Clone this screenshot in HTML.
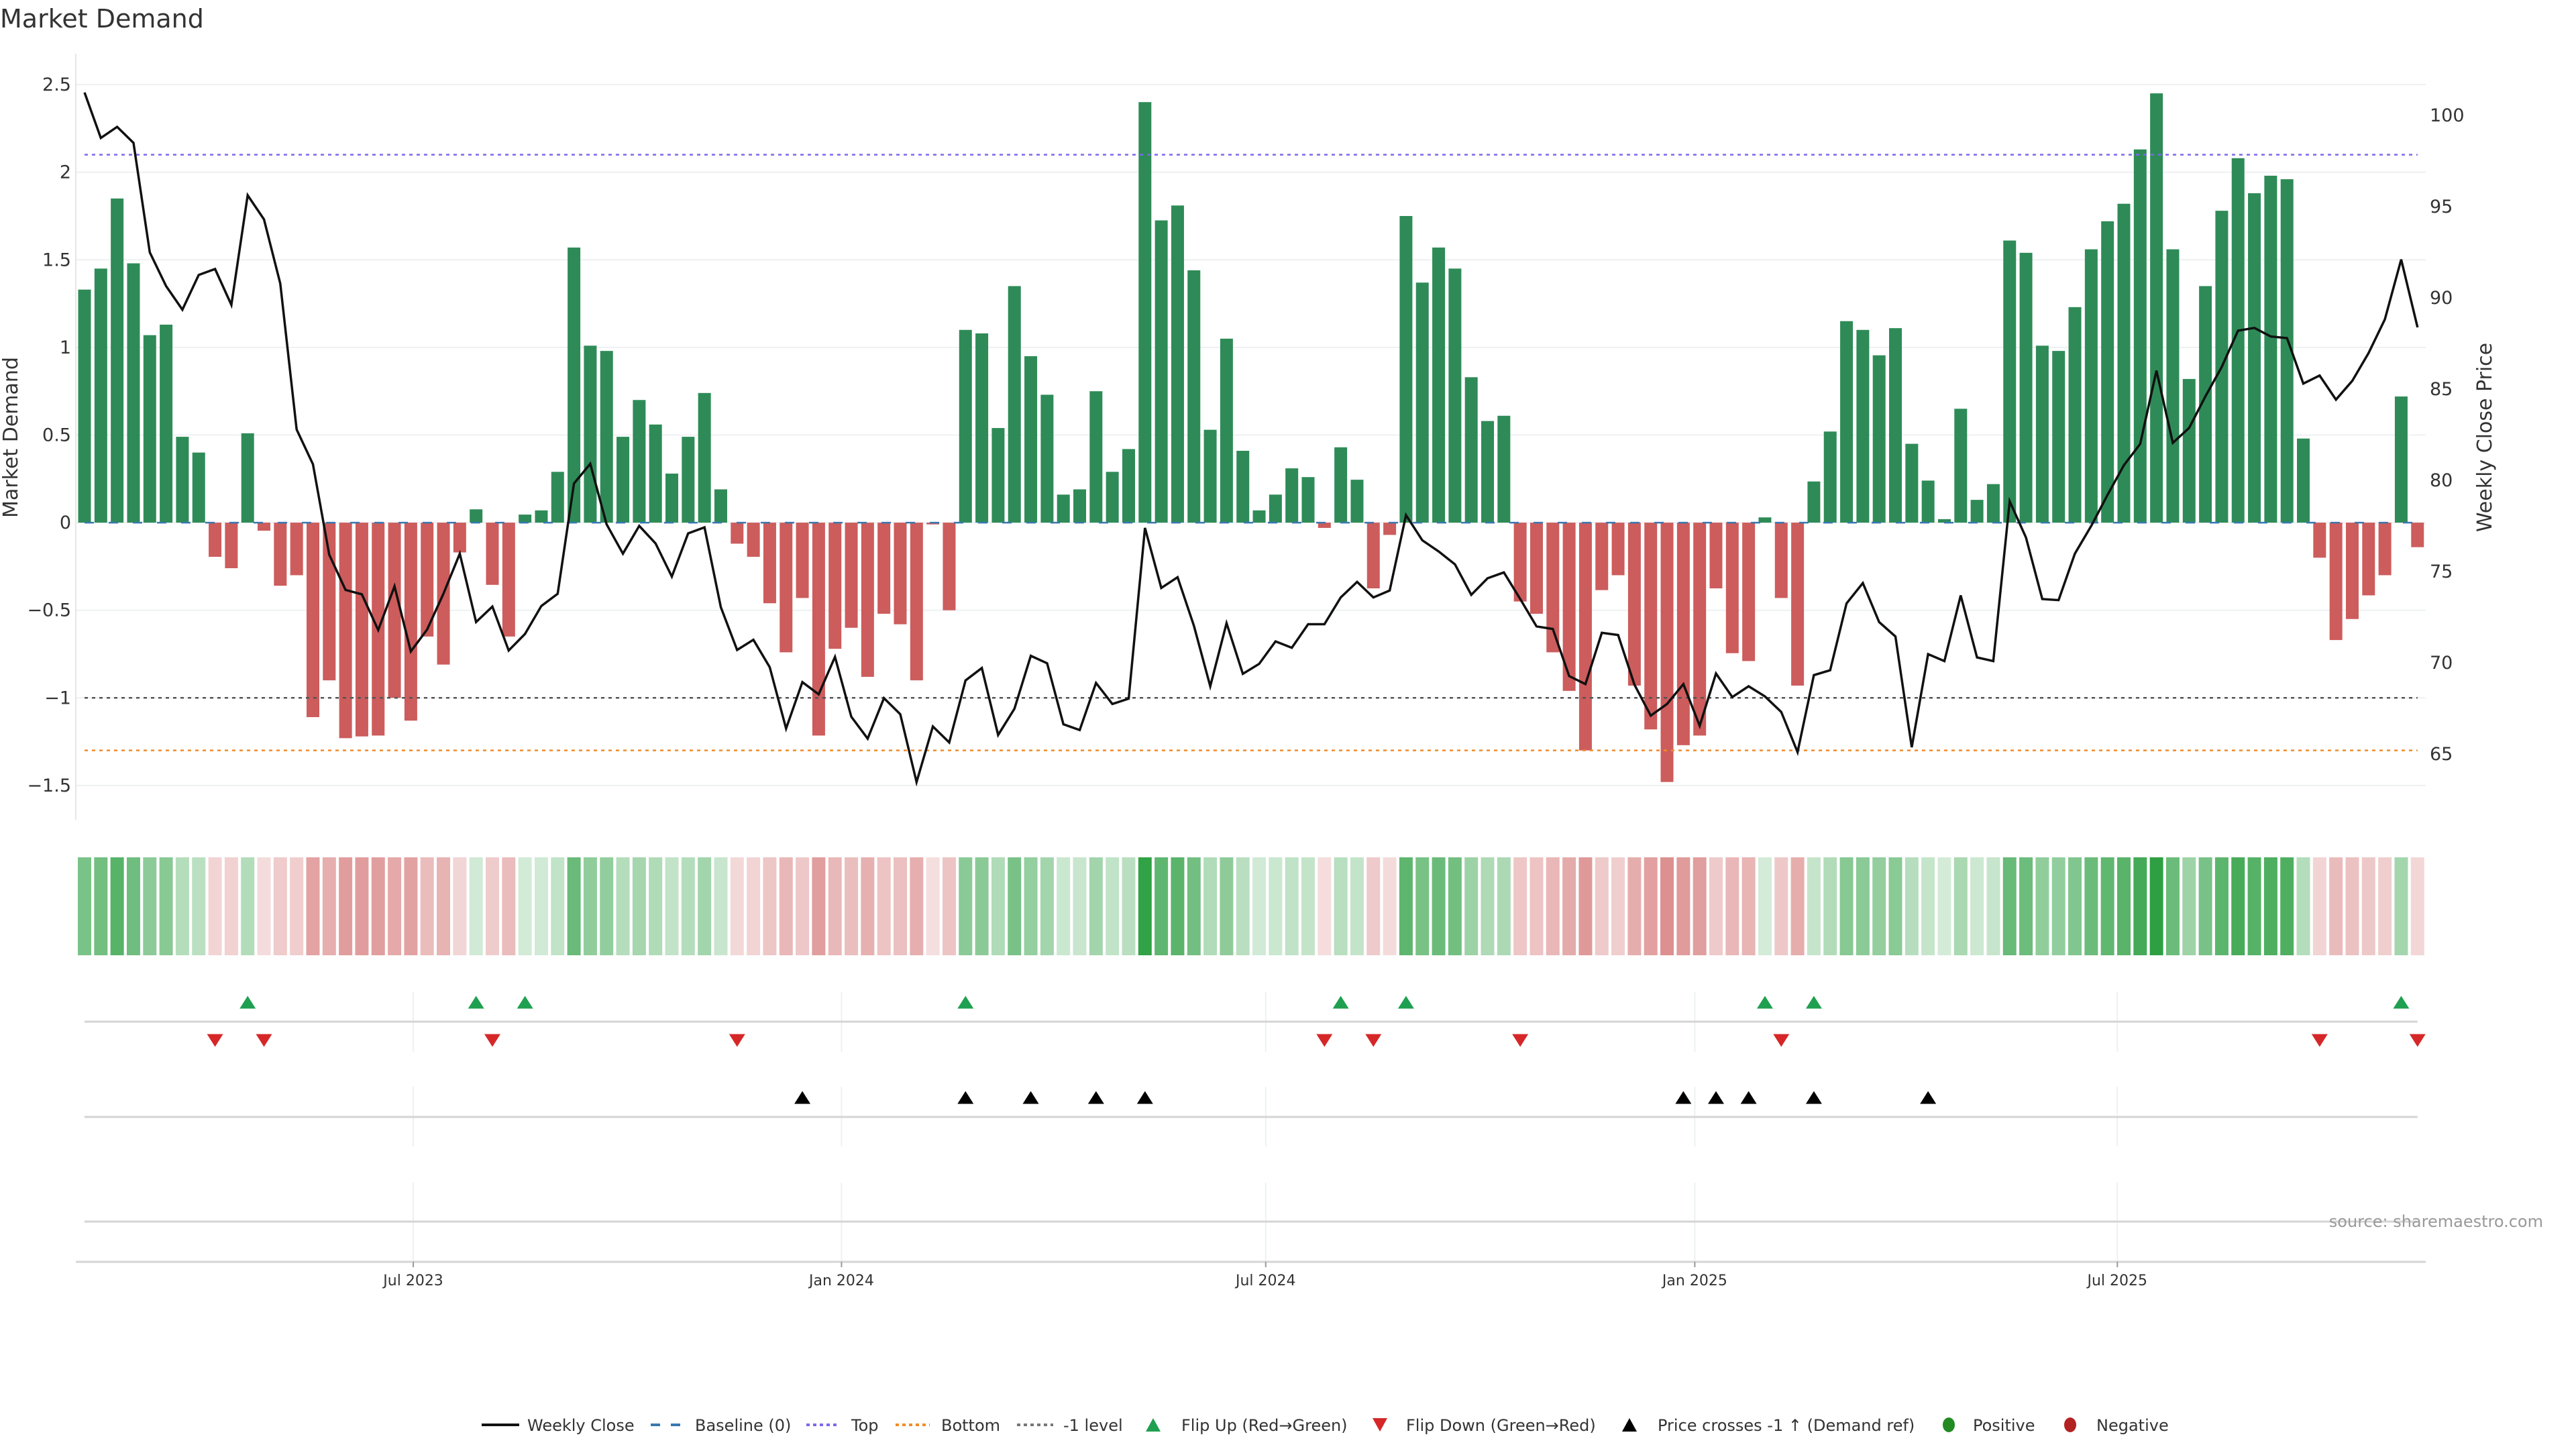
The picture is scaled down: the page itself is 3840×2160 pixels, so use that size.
<!DOCTYPE html>
<html><head><meta charset="utf-8"><style>
html,body{margin:0;padding:0;background:#fff;}
svg{display:block;font-family:"DejaVu Sans","Liberation Sans",sans-serif;}
</style></head><body>
<svg id="chart" width="3840" height="2160" viewBox="0 0 3840 2160" xmlns="http://www.w3.org/2000/svg">
<text x="0" y="41" font-size="38" fill="#333">Market Demand</text>
<g id="grid"></g>
<g id="main"></g>
<g id="heat"></g>
<g id="markers"></g>
<g id="xaxis"></g>
<text transform="translate(26,652) rotate(-90)" text-anchor="middle" font-size="30" fill="#333">Market Demand</text>
<text transform="translate(3714,652) rotate(-90)" text-anchor="middle" font-size="30" fill="#333">Weekly Close Price</text>
<text x="3791" y="1829" text-anchor="end" font-size="24" fill="#999">source: sharemaestro.com</text>
<g id="legend"></g>
</svg>
<script>
const demand = [1.33,1.45,1.85,1.48,1.07,1.13,0.49,0.40,-0.195,-0.26,0.51,-0.046,-0.36,-0.30,-1.11,-0.90,-1.23,-1.22,-1.215,-1.0,-1.13,-0.65,-0.81,-0.17,0.076,-0.355,-0.65,0.046,0.07,0.29,1.57,1.01,0.98,0.49,0.70,0.56,0.28,0.49,0.74,0.19,-0.12,-0.195,-0.46,-0.74,-0.43,-1.215,-0.72,-0.60,-0.88,-0.52,-0.58,-0.90,-0.01,-0.50,1.10,1.08,0.54,1.35,0.95,0.73,0.16,0.19,0.75,0.29,0.42,2.40,1.725,1.81,1.44,0.53,1.05,0.41,0.07,0.16,0.31,0.26,-0.03,0.43,0.245,-0.375,-0.07,1.75,1.37,1.57,1.45,0.83,0.58,0.61,-0.45,-0.52,-0.74,-0.96,-1.30,-0.385,-0.30,-0.93,-1.18,-1.48,-1.27,-1.215,-0.375,-0.745,-0.79,0.03,-0.43,-0.93,0.235,0.52,1.15,1.10,0.955,1.11,0.45,0.24,0.02,0.65,0.13,0.22,1.61,1.54,1.01,0.98,1.23,1.56,1.72,1.82,2.13,2.45,1.56,0.82,1.35,1.78,2.08,1.88,1.98,1.96,0.48,-0.20,-0.67,-0.55,-0.415,-0.30,0.72,-0.14];
const price = [101.26,98.77,99.38,98.5,92.5,90.65,89.36,91.26,91.59,89.62,95.63,94.31,90.79,82.79,80.89,75.93,74.0,73.76,71.8,74.2,70.63,71.83,73.79,75.99,72.24,73.09,70.68,71.59,73.12,73.79,79.83,80.91,77.6,75.99,77.51,76.55,74.73,77.1,77.43,73.06,70.71,71.27,69.77,66.4,68.95,68.28,70.33,67.05,65.85,68.07,67.19,63.47,66.52,65.64,69.04,69.72,66.05,67.49,70.39,69.98,66.64,66.32,68.9,67.75,68.04,77.4,74.11,74.7,72.03,68.72,72.18,69.4,69.95,71.18,70.83,72.12,72.12,73.59,74.44,73.59,73.97,78.1,76.72,76.11,75.4,73.73,74.64,74.96,73.5,72.0,71.86,69.28,68.84,71.65,71.53,68.81,67.11,67.75,68.84,66.55,69.42,68.13,68.72,68.16,67.31,65.11,69.33,69.6,73.26,74.38,72.24,71.45,65.38,70.48,70.1,73.7,70.3,70.1,78.86,76.87,73.5,73.44,75.99,77.51,79.21,80.83,82.0,86.02,82.06,82.88,84.61,86.22,88.21,88.36,87.89,87.8,85.31,85.75,84.43,85.46,86.98,88.83,92.11,88.39];
const flipUpIdx = [10,24,27,54,77,81,103,106,142];
const flipDownIdx = [8,11,25,40,76,79,88,104,137,143];
const crossIdx = [44,54,58,62,65,98,100,102,106,113];
const leftTicks = [2.5,2,1.5,1,0.5,0,-0.5,-1,-1.5];
const leftTickLabels = ["2.5","2","1.5","1","0.5","0","\u22120.5","\u22121","\u22121.5"];
const rightTicks = [100,95,90,85,80,75,70,65];
const dateTickLabels = ["Jul 2023","Jan 2024","Jul 2024","Jan 2025","Jul 2025"];
const dateTickPos = [20.15,46.4,72.4,98.7,124.6];
const levelTop = 2.1, levelBottom = -1.3, levelMinus1 = -1;

const NS = "http://www.w3.org/2000/svg";
function mk(tag, attrs, parent){const e=document.createElementNS(NS,tag);for(const k in attrs)e.setAttribute(k,attrs[k]);parent.appendChild(e);return e;}
const xS = i => 126 + i*24.32;
const yL = v => 779.1 - v*261.2;
const yR = p => 172.2 + (100-p)*27.2;
const PL=113, PR=3616, X0=xS(0), X1=xS(demand.length-1);
const grid=document.getElementById('grid'), main=document.getElementById('main');

leftTicks.forEach((t,k)=>{
  const l=mk('line',{x1:PL,x2:PR,y1:yL(t),y2:yL(t),stroke:'#eef0f2','stroke-width':2},grid);
  
  
  const tx=mk('text',{x:106,y:yL(t)+9,'text-anchor':'end','font-size':27,fill:'#333'},grid);
  tx.textContent=leftTickLabels[k];
  
  
});
rightTicks.forEach(t=>{
  const tx=mk('text',{x:3622,y:yR(t)+9,'font-size':27,fill:'#333'},grid);
  tx.textContent=String(t);
  
  
});
const spine=mk('line',{x1:PL,x2:PL,y1:80,y2:1222,stroke:'#e6e6e6','stroke-width':2},grid);



demand.forEach((v,i)=>{
  const y0=yL(0), y1=yL(v);
  const r=mk('rect',{x:xS(i)-9.5,y:Math.min(y0,y1),width:19,height:Math.max(1,Math.abs(y1-y0)),fill:v>=0?'#2e8b57':'#cd5c5c'},main);
  
  
});
function level(v,color,dash,name){
  const l=mk('line',{x1:X0,x2:X1,y1:yL(v),y2:yL(v),stroke:color,'stroke-width':2.5,'stroke-dasharray':dash},main);
  
  
}
level(0,'#3a78b0','14 22','baseline-line');
level(levelTop,'#7b68ee','5 6','top-level-line');
level(levelBottom,'#f08c28','5 6','bottom-level-line');
level(levelMinus1,'#555','5 6','minus1-level-line');
const pts=price.map((p,i)=>xS(i).toFixed(1)+','+yR(p).toFixed(1)).join(' ');
const pl=mk('polyline',{points:pts,fill:'none',stroke:'#111','stroke-width':3.5,'stroke-linejoin':'miter'},main);



const heat=document.getElementById('heat');
const mx=Math.max(...demand.map(Math.abs));
demand.forEach((v,i)=>{
  const a=0.2+0.8*Math.abs(v)/mx;
  const base=v>=0?[46,160,67]:[205,92,92];
  const c=base.map(b=>Math.round(255-a*(255-b)));
  const r=mk('rect',{x:xS(i)-10,y:1278,width:20,height:146,fill:`rgb(${c[0]},${c[1]},${c[2]})`},heat);
  
  
});

const mkG=document.getElementById('markers');
[[1479,1568],[1620,1709],[1763,1881]].forEach(([a,b])=>{
  dateTickPos.forEach(p=>{
    const l=mk('line',{x1:xS(p),x2:xS(p),y1:a,y2:b,stroke:'#eef0f2','stroke-width':2},mkG);
    
    
  });
});
[1523,1665,1821].forEach(y=>{
  const l=mk('line',{x1:X0,x2:X1,y1:y,y2:y,stroke:'#d4d4d4','stroke-width':3},mkG);
  
  
});
function tri(x,y,up,color,name){
  const h=19,w=12;
  const p=up?`${x-w},${y+h/2} ${x+w},${y+h/2} ${x},${y-h/2}`:`${x-w},${y-h/2} ${x+w},${y-h/2} ${x},${y+h/2}`;
  const t=mk('polygon',{points:p,fill:color},mkG);
  
  
}
flipUpIdx.forEach(i=>tri(xS(i),1494,true,'#1fa050','flip-up-marker'));
flipDownIdx.forEach(i=>tri(xS(i),1551,false,'#d62728','flip-down-marker'));
crossIdx.forEach(i=>tri(xS(i),1636,true,'#000','price-cross-marker'));

const xa=document.getElementById('xaxis');
const al=mk('line',{x1:PL,x2:PR,y1:1881,y2:1881,stroke:'#d4d4d4','stroke-width':3},xa);


dateTickLabels.forEach((lab,k)=>{
  const x=xS(dateTickPos[k]);
  const tk=mk('line',{x1:x,x2:x,y1:1881,y2:1889,stroke:'#999','stroke-width':2},xa);
  
  
  const t=mk('text',{x:x,y:1916,'text-anchor':'middle','font-size':22,fill:'#333'},xa);
  t.textContent=lab;
  
  
});

const lg=document.getElementById('legend');
const LY=2124;
function ltext(x,s){const t=mk('text',{x:x,y:LY+9,'font-size':24,fill:'#333'},lg);t.textContent=s;
  
  }
function lline(x1,x2,color,dash,w){const l=mk('line',{x1:x1,x2:x2,y1:LY,y2:LY,stroke:color,'stroke-width':w,'stroke-dasharray':dash},lg);
  
  }
lline(718,774,'#111','none',4); ltext(786,'Weekly Close');
lline(970,1014,'#3a78b0','14 16',4); ltext(1036,'Baseline (0)');
lline(1202,1250,'#7b68ee','5 5',4); ltext(1269,'Top');
lline(1335,1386,'#f08c28','5 5',4); ltext(1403,'Bottom');
lline(1516,1570,'#777','5 5',4); ltext(1585,'-1 level');
function ltri(x,up,color){const h=20,w=11;
  const p=up?`${x-w},${LY+h/2} ${x+w},${LY+h/2} ${x},${LY-h/2}`:`${x-w},${LY-h/2} ${x+w},${LY-h/2} ${x},${LY+h/2}`;
  const t=mk('polygon',{points:p,fill:color},lg);
  
  }
ltri(1719,true,'#1fa050'); ltext(1761,'Flip Up (Red\u2192Green)');
ltri(2057,false,'#d62728'); ltext(2096,'Flip Down (Green\u2192Red)');
ltri(2429,true,'#000'); ltext(2471,'Price crosses -1 \u2191 (Demand ref)');
function ldot(x,color){const c=mk('ellipse',{cx:x,cy:LY,rx:9,ry:11,fill:color},lg);
  
  }
ldot(2905,'#228b22'); ltext(2941,'Positive');
ldot(3086,'#b22222'); ltext(3125,'Negative');
</script>
</body></html>
